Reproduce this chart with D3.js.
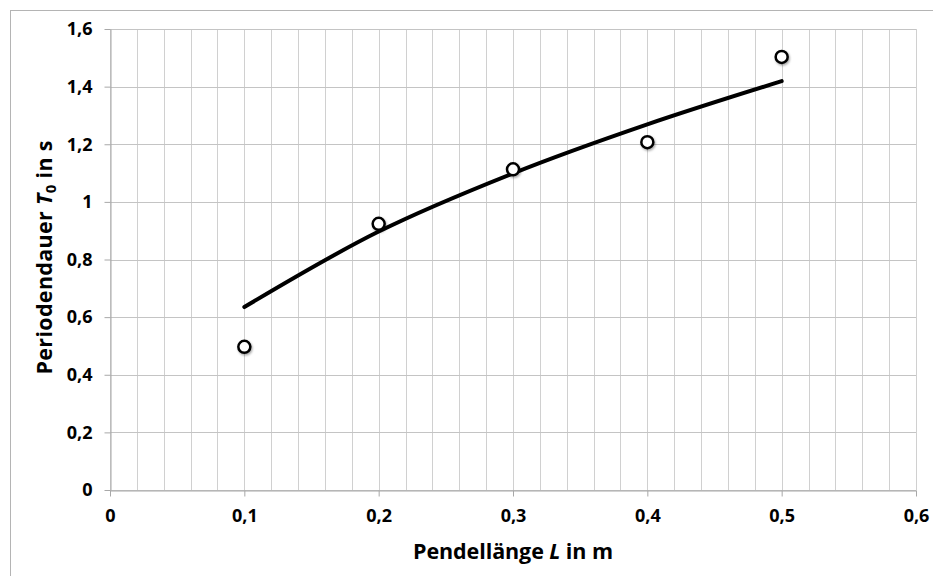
<!DOCTYPE html>
<html>
<head>
<meta charset="utf-8">
<script src="https://cdn.jsdelivr.net/npm/d3@7/dist/d3.min.js"></script>
<style>
  html, body { margin: 0; padding: 0; background: #fff; }
  svg { display: block; }
  text { font-family: "Open Sans", "DejaVu Sans", sans-serif; font-weight: bold; fill: #000; }
</style>
</head>
<body>
<svg id="chart" width="933" height="576"></svg>
<script>
// Measured data (Pendellänge L in m, Periodendauer T0 in s)
const lengths = [0.1, 0.2, 0.3, 0.4, 0.5];
const periodsMeasured = [0.497, 0.924, 1.113, 1.207, 1.503];
// Theory curve values at the same lengths
const periodsTheory = [0.635, 0.897, 1.099, 1.269, 1.419];

const xTicks = [0, 0.1, 0.2, 0.3, 0.4, 0.5, 0.6];
const yTicks = [0, 0.2, 0.4, 0.6, 0.8, 1.0, 1.2, 1.4, 1.6];
const xMinorGrid = d3.range(0, 31).map(i => i / 50); // every 0.02
const fmt = v => String(+v.toFixed(2)).replace(".", ",");

const svg = d3.select("#chart");
const mLeft = 110, mRight = 916, mTop = 29, mBottom = 490;

const x = d3.scaleLinear().domain([0, 0.6]).range([mLeft, mRight]);
const y = d3.scaleLinear().domain([0, 1.6]).range([mBottom, mTop]);

// outer frame
svg.append("rect").attr("x", 10.5).attr("y", 10.5).attr("width", 1000).attr("height", 1000)
  .attr("fill", "none").attr("stroke", "#b4b4b4").attr("stroke-width", 1);

// vertical grid
svg.append("g").selectAll("line").data(xMinorGrid).join("line")
  .attr("x1", d => Math.round(x(d)) + 0.5).attr("x2", d => Math.round(x(d)) + 0.5)
  .attr("y1", mTop).attr("y2", mBottom)
  .attr("stroke", "#d0d0d0").attr("stroke-width", 1);

// horizontal grid
svg.append("g").selectAll("line").data(yTicks).join("line")
  .attr("x1", mLeft).attr("x2", mRight)
  .attr("y1", d => Math.round(y(d)) + 0.5).attr("y2", d => Math.round(y(d)) + 0.5)
  .attr("stroke", "#c4c4c4").attr("stroke-width", 1);

// axes
const xAxis = svg.append("g").attr("transform", `translate(0,${Math.round(mBottom) + 0.5})`)
  .call(d3.axisBottom(x).tickValues(xTicks).tickFormat(fmt).tickSize(6).tickPadding(13).tickSizeOuter(0));
const yAxis = svg.append("g").attr("transform", `translate(${mLeft + 0.5},0)`)
  .call(d3.axisLeft(y).tickValues(yTicks).tickFormat(fmt).tickSize(6).tickPadding(12).tickSizeOuter(0));
[xAxis, yAxis].forEach(a => {
  a.select(".domain").attr("stroke", "#a8a8a8");
  a.selectAll(".tick line").attr("stroke", "#a8a8a8");
  a.selectAll(".tick text").attr("font-size", 18).attr("font-family", "'Open Sans', sans-serif").attr("font-weight", "bold").attr("fill", "#000");
});

// theory curve
const line = d3.line().x((d, i) => x(lengths[i])).y(d => y(d)).curve(d3.curveCatmullRom.alpha(0.5));
svg.append("path").datum(periodsTheory).attr("d", line)
  .attr("fill", "none").attr("stroke", "#000").attr("stroke-width", 4).attr("stroke-linecap", "round");

// measured points with soft shadow
const defs = svg.append("defs");
const f = defs.append("filter").attr("id", "sh").attr("x", "-50%").attr("y", "-50%").attr("width", "200%").attr("height", "200%");
f.append("feDropShadow").attr("dx", 1).attr("dy", 1.5).attr("stdDeviation", 1.2).attr("flood-color", "#000").attr("flood-opacity", 0.35);
svg.append("g").selectAll("circle").data(periodsMeasured).join("circle")
  .attr("cx", (d, i) => x(lengths[i])).attr("cy", d => y(d)).attr("r", 6)
  .attr("fill", "#fff").attr("stroke", "#000").attr("stroke-width", 2.5)
  .attr("filter", "url(#sh)");

// axis titles
const xt = svg.append("text").attr("x", (mLeft + mRight) / 2).attr("y", 559)
  .attr("text-anchor", "middle").attr("font-size", 21.5)
  .attr("textLength", 200).attr("lengthAdjust", "spacing");
xt.append("tspan").text("Pendellänge ");
xt.append("tspan").attr("font-style", "italic").text("L");
xt.append("tspan").text(" in m");

const yt = svg.append("text").attr("transform", `translate(52,${(mTop + mBottom) / 2 - 2}) rotate(-90)`)
  .attr("text-anchor", "middle").attr("font-size", 21.5)
  .attr("textLength", 234).attr("lengthAdjust", "spacing");
yt.append("tspan").text("Periodendauer ");
yt.append("tspan").attr("font-style", "italic").text("T");
yt.append("tspan").attr("font-size", 15).attr("dy", 4).text("0");
yt.append("tspan").attr("dy", -4).text(" in s");
</script>
</body>
</html>
